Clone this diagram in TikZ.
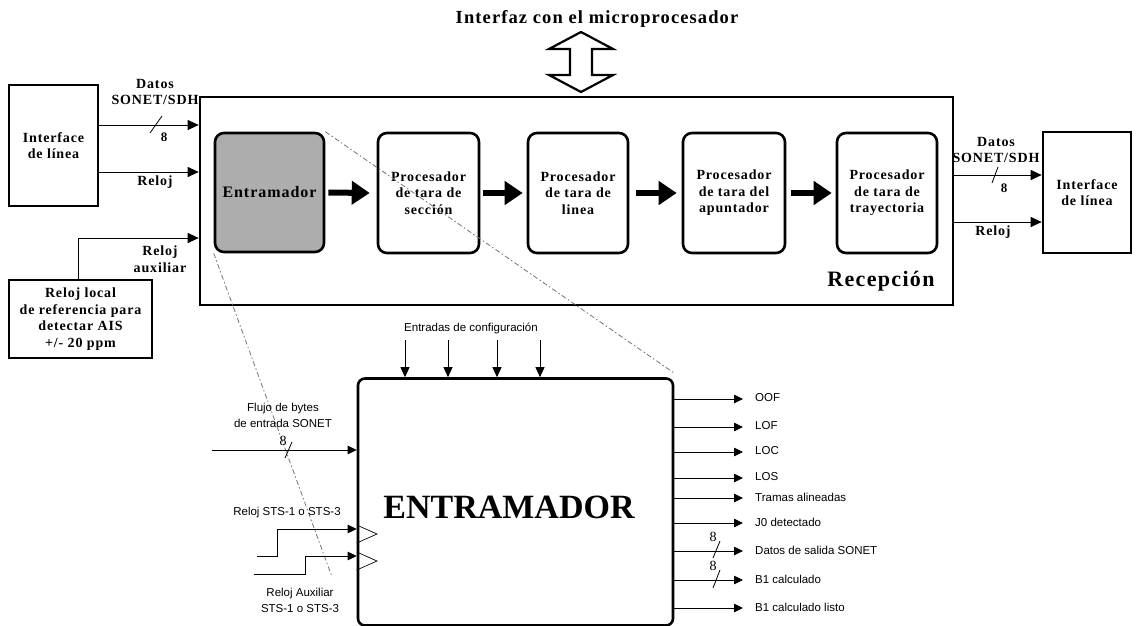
\documentclass[tikz,border=0pt]{standalone}
\usepackage{fontspec}
\setmainfont{Liberation Serif}
\setsansfont{Liberation Sans}
\newfontfamily\wserif[LetterSpace=6]{Liberation Serif}
\usetikzlibrary{arrows.meta}
\begin{document}
\begin{tikzpicture}[x=1pt,y=-1pt,
  sq/.style={draw,line width=2.6pt,inner sep=0pt,align=center,
     font=\wserif\bfseries\fontsize{14}{16.5}\selectfont},
  rbox/.style={sq,rounded corners=9pt},
  lbl/.style={inner sep=0pt,align=center,font=\wserif\bfseries\fontsize{14}{16.5}\selectfont},
  slbl/.style={inner sep=0pt,align=center,font=\sffamily\fontsize{11.5}{16}\selectfont},
  sig/.style={line width=0.9pt,-{Triangle[length=11pt,width=10pt]}},
  csig/.style={line width=0.8pt,-{Triangle[length=10pt,width=9pt]}},
  osig/.style={line width=0.8pt,-{Triangle[length=9pt,width=8.5pt]}},
  bigarr/.style={line width=6pt,-{Triangle[length=18pt 0 0,width=23pt 0 0]}},
  zoomline/.style={black!55,line width=0.8pt,dash pattern=on 5pt off 2.5pt on 1.5pt off 2.5pt},
  bus/.style={line width=0.8pt},
  buslbl/.style={inner sep=0pt,font=\bfseries\fontsize{13}{15}\selectfont},
  buslbln/.style={inner sep=0pt,font=\fontsize{14}{15}\selectfont}
]
\useasboundingbox (0,0) rectangle (1136,625);

% title and double arrow
\node[lbl,font=\wserif\bfseries\fontsize{18.5}{20}\selectfont] (title) at (597,19) {Interfaz con el microprocesador};
\draw[line width=2.2pt,line join=miter] (581,32) -- (613,49) -- (592,49) -- (592,75) -- (613,75) -- (581,92)
  -- (549,75) -- (570,75) -- (570,49) -- (549,49) -- cycle;

% upper blocks
\node[sq,minimum width=89pt,minimum height=121pt] (lif) at (53.5,145.5) {Interface\\de línea};
\node[sq,minimum width=143pt,minimum height=78pt] (rl) at (80.5,319) {Reloj local\\de referencia para\\detectar AIS\\+/- 20 ppm};
\node[sq,minimum width=753pt,minimum height=208pt] (rec) at (576.5,201) {};
\node[lbl,font=\wserif\bfseries\fontsize{22}{24}\selectfont] (recl) at (881,281) {Recepción};
\node[rbox,fill=black!32,minimum width=109pt,minimum height=119pt,
      font=\wserif\bfseries\fontsize{16}{18}\selectfont] (ent) at (269.5,192.5) {Entramador};
\node[rbox,minimum width=101pt,minimum height=120pt] (sec) at (428.5,193) {Procesador\\de tara de\\sección};
\node[rbox,minimum width=100pt,minimum height=120pt] (lin) at (578,193) {Procesador\\de tara de\\linea};
\node[rbox,minimum width=102pt,minimum height=120pt] (apu) at (734,193) {Procesador\\de tara del\\apuntador};
\node[rbox,minimum width=100pt,minimum height=120pt] (tra) at (887,193) {Procesador\\de tara de\\trayectoria};
\node[sq,minimum width=88pt,minimum height=121pt] (rif) at (1087,192.5) {Interface\\de línea};

\draw[bigarr] ([xshift=3pt]ent.east) -- ([xshift=-7pt]sec.west);
\draw[bigarr] ([xshift=3pt]sec.east) -- ([xshift=-4pt]lin.west);
\draw[bigarr] ([xshift=7pt]lin.east) -- ([xshift=-5pt]apu.west);
\draw[bigarr] ([xshift=5pt]apu.east) -- ([xshift=-4pt]tra.west);

% left connections
\draw[sig] (lif.east |- 0,125) -- (rec.west |- 0,125);
\draw[bus] (150,133) -- (162,116);
\node[buslbl] (n8a) at (164,137) {8};
\node[lbl] (dat1) at (155,92) {Datos\\SONET/SDH};
\draw[sig] (lif.east |- 0,172) -- (rec.west |- 0,172);
\node[lbl] (rel1) at (155,182) {Reloj};
\draw[sig] (rl.north -| 78,0) |- (rec.west |- 0,238);
\node[lbl] (rel2) at (160,259) {Reloj\\auxiliar};

% right connections
\draw[sig] (rec.east |- 0,175) -- (rif.west |- 0,175);
\draw[bus] (992,183) -- (998,167);
\node[buslbl] (n8b) at (1004,188) {8};
\node[lbl] (dat2) at (996,150) {Datos\\SONET/SDH};
\draw[sig] (rec.east |- 0,222) -- (rif.west |- 0,222);
\node[lbl] (rel3) at (993,232) {Reloj};

% lower block
\node[draw,line width=2.6pt,rounded corners=7pt,minimum width=315pt,minimum height=247pt,inner sep=0pt] (big) at (515.5,502) {};
\node[inner sep=0pt,font=\bfseries\fontsize{34}{36}\selectfont] (bigl) at (509,507) {ENTRAMADOR};

% zoom lines
\coordinate (zl) at (332,577);
\draw[zoomline] (ent.north east) -- ([yshift=4pt]big.north east);
\draw[zoomline] (ent.south west) -- (zl);

% configuration inputs
\node[slbl] (cfg) at (471,328) {Entradas de configuración};
\foreach \cx/\cn in {405/1,448/2,497/3,540/4}{
  \coordinate (c\cn) at (\cx,340);
  \draw[csig] (c\cn) -- (c\cn |- big.north);
}

% data input
\coordinate (fin) at (212,450);
\draw[osig] (fin) -- (big.west |- fin);
\draw[bus] (285,458) -- (292,442);
\node[buslbln] (n8c) at (283,441) {8};
\node[slbl] (flu) at (283,415) {Flujo de bytes\\de entrada SONET};

% clocks
\node[slbl] (clk1l) at (287,513) {Reloj STS-1 o STS-3};
\coordinate (ck1) at (257,556);
\coordinate (ck2) at (254,574);
\draw[osig] (ck1) -| (277,529) -- (big.west |- 0,529);
\draw[osig] (ck2) -| (305,556) -- (big.west |- 0,556);
\draw[line width=0.7pt] (big.west |- 0,525) -- (377,534) -- (big.west |- 0,543);
\draw[line width=0.7pt] (big.west |- 0,552) -- (377,561) -- (big.west |- 0,570);
\node[slbl] (clk2l) at (300,600) {Reloj Auxiliar\\STS-1 o STS-3};

% outputs
\foreach \oy/\ot/\on in {399/OOF/1,427/LOF/2,452/LOC/3,478/LOS/4,498/Tramas alineadas/5,
   523/J0 detectado/6,551/Datos de salida SONET/7,580/B1 calculado/8,608/B1 calculado listo/9}{
  \node[slbl,anchor=west] (o\on) at (755,\oy-1) {\ot};
  \draw[osig] (big.east |- 0,\oy) -- (743,\oy);
}
\draw[bus] (713,558) -- (720,541);
\node[buslbln] (n8d) at (713,537) {8};
\draw[bus] (713,588) -- (720,570);
\node[buslbln] (n8e) at (713,566) {8};
\end{tikzpicture}
\end{document}
